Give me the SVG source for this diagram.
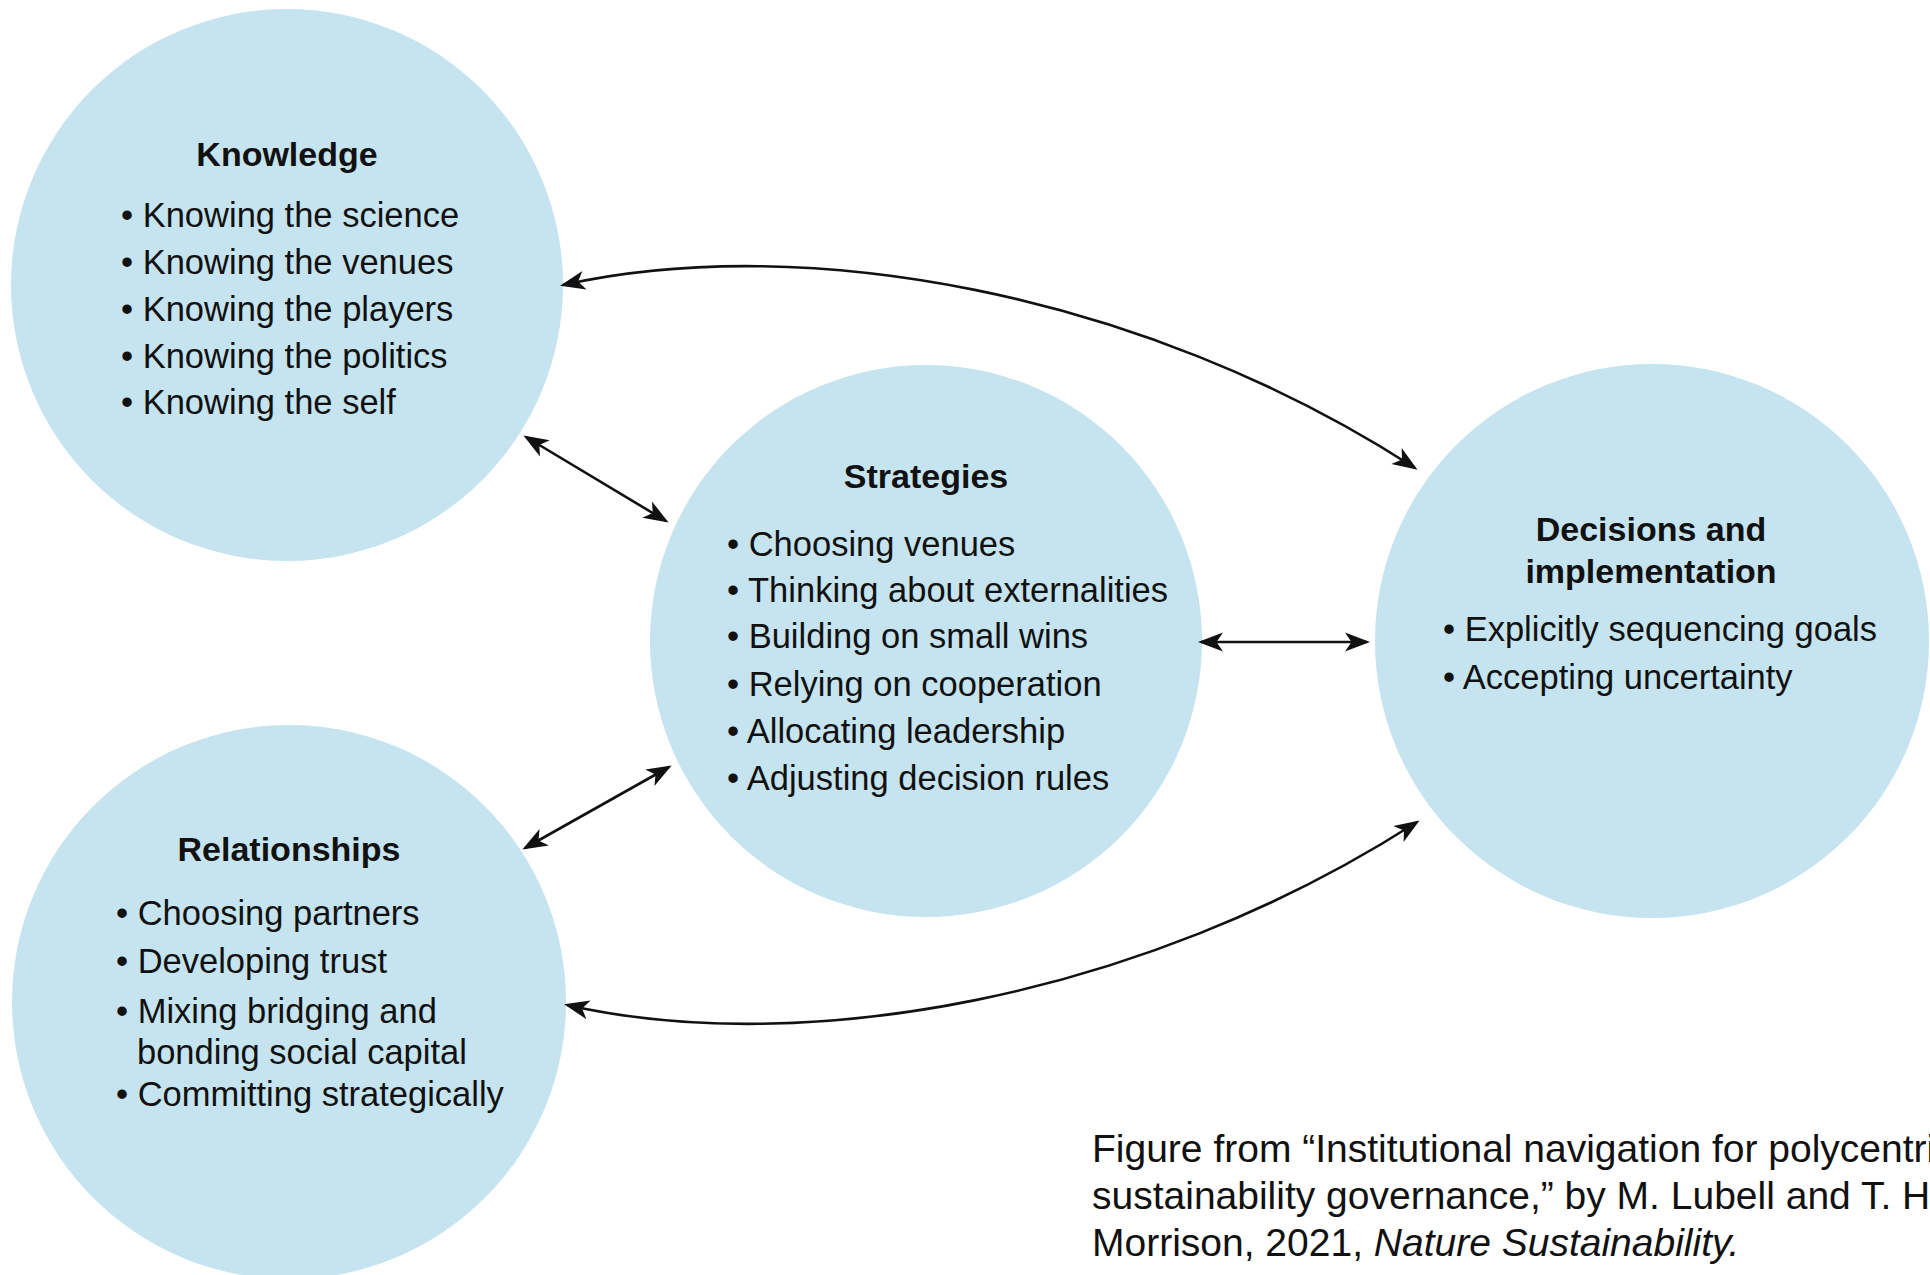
<svg xmlns="http://www.w3.org/2000/svg" width="1930" height="1275" viewBox="0 0 1930 1275">
  <style>
    .node { fill: #c5e4ef; }
    .title { font-family: "Liberation Sans", Arial, sans-serif; font-size: 34px; font-weight: bold; fill: #111; text-anchor: middle; }
    .item { font-family: "Liberation Sans", Arial, sans-serif; font-size: 34.5px; fill: #111; }
    .cap { font-family: "Liberation Sans", Arial, sans-serif; font-size: 39px; fill: #111; }
    .conn { fill: none; stroke: #111; stroke-width: 2.6; marker-start: url(#arr); marker-end: url(#arr); }
  </style>
  <defs>
    <marker id="arr" viewBox="0 0 26 22" refX="23" refY="11" markerWidth="26" markerHeight="22" markerUnits="userSpaceOnUse" orient="auto-start-reverse">
      <path d="M26,11 L1,1.5 L7.5,11 L1,20.5 Z" fill="#111"/>
    </marker>
  </defs>
  <rect width="1930" height="1275" fill="#ffffff"/>

  <g id="knowledge">
    <circle class="node" cx="287" cy="285" r="276"/>
    <text class="title" x="287" y="166">Knowledge</text>
    <text class="item" x="121" y="227">• Knowing the science</text>
    <text class="item" x="121" y="274">• Knowing the venues</text>
    <text class="item" x="121" y="321">• Knowing the players</text>
    <text class="item" x="121" y="368">• Knowing the politics</text>
    <text class="item" x="121" y="414">• Knowing the self</text>
  </g>

  <g id="strategies">
    <circle class="node" cx="926" cy="641" r="276"/>
    <text class="title" x="926" y="488">Strategies</text>
    <text class="item" x="727" y="556">• Choosing venues</text>
    <text class="item" x="727" y="602">• Thinking about externalities</text>
    <text class="item" x="727" y="648">• Building on small wins</text>
    <text class="item" x="727" y="696">• Relying on cooperation</text>
    <text class="item" x="727" y="743">• Allocating leadership</text>
    <text class="item" x="727" y="790">• Adjusting decision rules</text>
  </g>

  <g id="decisions">
    <circle class="node" cx="1652" cy="641" r="277"/>
    <text class="title" x="1651" y="541">Decisions and</text>
    <text class="title" x="1651" y="583">implementation</text>
    <text class="item" x="1443" y="641">• Explicitly sequencing goals</text>
    <text class="item" x="1443" y="689">• Accepting uncertainty</text>
  </g>

  <g id="relationships">
    <circle class="node" cx="289" cy="1002" r="277"/>
    <text class="title" x="289" y="861">Relationships</text>
    <text class="item" x="116" y="925">• Choosing partners</text>
    <text class="item" x="116" y="973">• Developing trust</text>
    <text class="item" x="116" y="1023">• Mixing bridging and</text>
    <text class="item" x="137" y="1064">bonding social capital</text>
    <text class="item" x="116" y="1106">• Committing strategically</text>
  </g>

  <g id="connectors">
    <path class="conn" d="M563,285 C800,232 1140,290 1415,468"/>
    <path class="conn" d="M567,1005 C800,1058 1140,1000 1417,822"/>
    <path class="conn" d="M526,437 L666,521"/>
    <path class="conn" d="M1201,642 L1367,642"/>
    <path class="conn" d="M525,848 L669,767"/>
  </g>

  <g id="caption">
    <text class="cap" x="1092" y="1162">Figure from “Institutional navigation for polycentric</text>
    <text class="cap" x="1092" y="1209">sustainability governance,” by M. Lubell and T. H.</text>
    <text class="cap" x="1092" y="1256">Morrison, 2021, <tspan font-style="italic">Nature Sustainability.</tspan></text>
  </g>
</svg>
